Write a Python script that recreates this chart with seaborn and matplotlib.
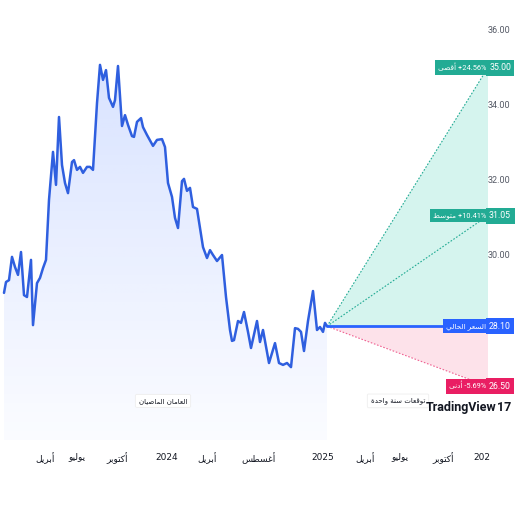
# Price forecast chart (TradingView style, Arabic)

import numpy as np
import seaborn as sns
import matplotlib
matplotlib.use('Agg')
from matplotlib import pyplot as plt
from matplotlib.patches import Polygon
from matplotlib.transforms import blended_transform_factory, Bbox, TransformedBbox

# Weekly closes over the past two years (x = session index)
hist_t = [4, 6, 9, 12, 15, 18, 21, 24, 27, 31, 33, 37, 40, 43, 46, 49, 53, 56, 59, 62,
          65, 68, 72, 74, 77, 80, 83, 87, 90, 93, 97, 100, 103, 106, 109, 113, 115, 118, 122, 125,
          128, 132, 134, 137, 141, 143, 147, 153, 157, 162, 165, 168, 172, 175, 178, 182, 184, 187, 190, 193,
          197, 200, 203, 207, 210, 213, 217, 222, 226, 230, 232, 234, 238, 241, 244, 248, 251, 257, 260, 263,
          269, 275, 279, 283, 287, 291, 295, 298, 301, 304, 308, 313, 317, 320, 323, 325, 327]
hist_price = [28.99, 29.28, 29.33, 29.95, 29.68, 29.47, 30.08, 28.93, 28.88, 29.87, 28.13, 29.25, 29.39, 29.65, 29.87, 31.47, 32.75, 31.87, 33.68, 32.40,
              31.92, 31.65, 32.48, 32.53, 32.27, 32.35, 32.19, 32.35, 32.35, 32.27, 34.05, 35.07, 34.67, 34.93, 34.19, 33.95, 34.13, 35.04, 33.44, 33.73,
              33.47, 33.17, 33.15, 33.55, 33.65, 33.41, 33.20, 32.91, 33.07, 33.09, 32.88, 31.92, 31.55, 30.99, 30.72, 31.97, 32.03, 31.71, 31.79, 31.28,
              31.23, 30.72, 30.21, 29.92, 30.13, 30.00, 29.84, 30.00, 28.88, 28.00, 27.71, 27.73, 28.24, 28.19, 28.48, 27.95, 27.52, 28.24, 27.68, 28.00,
              27.12, 27.65, 27.12, 27.07, 27.12, 27.01, 28.05, 28.03, 27.95, 27.44, 28.24, 29.04, 28.00, 28.08, 27.95, 28.19, 28.10]

current_price = 28.10
forecast_end = 488
forecast_prices = [35.00, 31.05, 26.50]      # max, average, min
forecast_pct = ['+24.56%', '+10.41%', '-5.69%']
forecast_names = ['أقصى', 'متوسط', 'أدنى']
current_name = 'السعر الحالي'

price_ticks = [30.0, 32.0, 34.0, 36.0]
x_ticks = [45, 77, 117, 167, 207, 258, 323, 365, 400, 443, 485]
x_labels = ['أبريل', 'يوليو', 'أكتوبر', '2024', 'أبريل', 'أغسطس', '2025', 'أبريل', 'يوليو', 'أكتوبر', '2026']
section_labels = ['العامان الماضيان', 'توقعات سنة واحدة']

# matplotlib has no Arabic shaping, so map letters to presentation forms and reverse
JOIN = {'ء': (0xFE80, 0), 'آ': (0xFE81, 1), 'أ': (0xFE83, 1), 'ؤ': (0xFE85, 1), 'إ': (0xFE87, 1), 'ئ': (0xFE89, 2),
        'ا': (0xFE8D, 1), 'ب': (0xFE8F, 2), 'ة': (0xFE93, 1), 'ت': (0xFE95, 2), 'ث': (0xFE99, 2), 'ج': (0xFE9D, 2),
        'ح': (0xFEA1, 2), 'خ': (0xFEA5, 2), 'د': (0xFEA9, 1), 'ذ': (0xFEAB, 1), 'ر': (0xFEAD, 1), 'ز': (0xFEAF, 1),
        'س': (0xFEB1, 2), 'ش': (0xFEB5, 2), 'ص': (0xFEB9, 2), 'ض': (0xFEBD, 2), 'ط': (0xFEC1, 2), 'ظ': (0xFEC5, 2),
        'ع': (0xFEC9, 2), 'غ': (0xFECD, 2), 'ف': (0xFED1, 2), 'ق': (0xFED5, 2), 'ك': (0xFED9, 2), 'ل': (0xFEDD, 2),
        'م': (0xFEE1, 2), 'ن': (0xFEE5, 2), 'ه': (0xFEE9, 2), 'و': (0xFEED, 1), 'ى': (0xFEEF, 1), 'ي': (0xFEF1, 2)}
LAM_ALEF = {'آ': 0xFEF5, 'أ': 0xFEF7, 'إ': 0xFEF9, 'ا': 0xFEFB}


def shape(text):
    if not any(ch in JOIN for ch in text):
        return text
    out = []
    prev_joins = False
    i = 0
    while i < len(text):
        ch = text[i]
        if ch not in JOIN:
            out.append(ch)
            prev_joins = False
            i += 1
            continue
        if ch == 'ل' and i + 1 < len(text) and text[i + 1] in LAM_ALEF:
            out.append(chr(LAM_ALEF[text[i + 1]] + (1 if prev_joins else 0)))
            prev_joins = False
            i += 2
            continue
        base, kind = JOIN[ch]
        nxt = text[i + 1] if i + 1 < len(text) else ''
        joins_next = kind == 2 and nxt in JOIN and JOIN[nxt][1] > 0
        joins_prev = prev_joins and kind > 0
        off = 3 if (joins_prev and joins_next) else 2 if joins_next else 1 if joins_prev else 0
        out.append(chr(base + off))
        prev_joins = joins_next
        i += 1
    return ''.join(out[::-1])


sns.set_style('white')
plt.rcParams['font.family'] = ['DejaVu Sans']
NARROW = ['Roboto', 'DejaVu Sans']

BLUE = '#2962ff'
LINE = '#2f5fdf'
GREEN = '#22ab94'
PINK = '#e91e63'
TXT = '#131722'

fig = plt.figure(figsize=(5.2, 5.2), dpi=100)
ax = fig.add_axes([0, 80 / 520, 488 / 520, 440 / 520])
ymin, ymax = 25.067, 36.8
ax.set_xlim(0, forecast_end)
ax.set_ylim(ymin, ymax)

# gradient area under the history line
verts = [(hist_t[0], ymin)] + list(zip(hist_t, hist_price)) + [(hist_t[-1], ymin)]
clip = Polygon(verts, closed=True, fc='none', ec='none')
ax.add_patch(clip)
alpha = np.linspace(0.18, 0.02, 256)
img = np.zeros((256, 1, 4))
img[:, 0, 0], img[:, 0, 1], img[:, 0, 2] = 41 / 255, 98 / 255, 1.0
img[:, 0, 3] = alpha
im = ax.imshow(img, extent=[hist_t[0], hist_t[-1], ymin, max(hist_price)], aspect='auto',
               origin='upper', zorder=1)
im.set_clip_path(clip)

sns.lineplot(x=hist_t, y=hist_price, ax=ax, color=LINE, lw=1.8, zorder=4)

# forecast fan
t0 = hist_t[-1]
ax.fill([t0, forecast_end, forecast_end], [current_price, forecast_prices[0], current_price],
        color='#d5f4ee', lw=0, zorder=2)
ax.fill([t0, forecast_end, forecast_end], [current_price, current_price, forecast_prices[2]],
        color='#fde2ea', lw=0, zorder=2)
for p, c in zip(forecast_prices, [GREEN, GREEN, '#f06292']):
    ax.plot([t0, forecast_end], [current_price, p], color=c, lw=0.8, ls=(0, (1.5, 1.5)), zorder=3)
ax.plot([t0, forecast_end], [current_price, current_price], color=BLUE, lw=2, zorder=4)

# right price scale
tr = blended_transform_factory(fig.transFigure, ax.transData)
for p in price_ticks:
    ax.text(499 / 520, p, f'{p:.2f}', transform=tr, ha='center', va='center', family=NARROW,
            fontsize=6.5, color='#555a66', clip_on=False)

labels = [shape(n) + ' ' + s for n, s in zip(forecast_names, forecast_pct)]
labels.insert(2, shape(current_name))
values = forecast_prices[:2] + [current_price] + forecast_prices[2:]
colors = [GREEN, GREEN, BLUE, PINK]
for lab, val, c in zip(labels, values, colors):
    ax.text(486.5, val, lab, ha='right', va='center', fontsize=5.3, color='white', family=NARROW,
            bbox=dict(boxstyle='square,pad=0.45', fc=c, ec='none'), zorder=6, clip_on=False)
    ax.text(500 / 520, val, f'{val:.2f}', transform=tr, ha='center', va='center', fontsize=6.3,
            family=NARROW, color='white', bbox=dict(boxstyle='square,pad=0.4', fc=c, ec='none'),
            zorder=6, clip_on=False)

# section captions
for x, lab in zip([163, 398], section_labels):
    ax.text(x, 26.11, shape(lab), ha='center', va='center', fontsize=5, color=TXT,
            bbox=dict(boxstyle='round,pad=0.5,rounding_size=0.2', fc='white', ec='#eeeeee', lw=0.6), zorder=6)

ax.text(496, 25.93, 'TradingView', ha='right', va='center', fontsize=9, fontweight='bold',
        family=NARROW, color=TXT, zorder=7, clip_on=False)
ax.text(497, 25.93, '17', ha='left', va='center', fontsize=9, fontweight='bold',
        family=NARROW, color=TXT, zorder=7, clip_on=False)

# time axis
ax.set_xticks(x_ticks)
ax.set_xticklabels([shape(l) for l in x_labels], fontsize=6.5, color=TXT)
ax.tick_params(axis='x', length=0, pad=9)
ax.set_yticks([])
for s in ax.spines.values():
    s.set_visible(False)
last = ax.get_xticklabels()[-1]
last.set_clip_box(TransformedBbox(Bbox([[0, 0], [490 / 520, 1]]), fig.transFigure))
last.set_clip_on(True)

plt.savefig('out.png', dpi=100, facecolor='white')
